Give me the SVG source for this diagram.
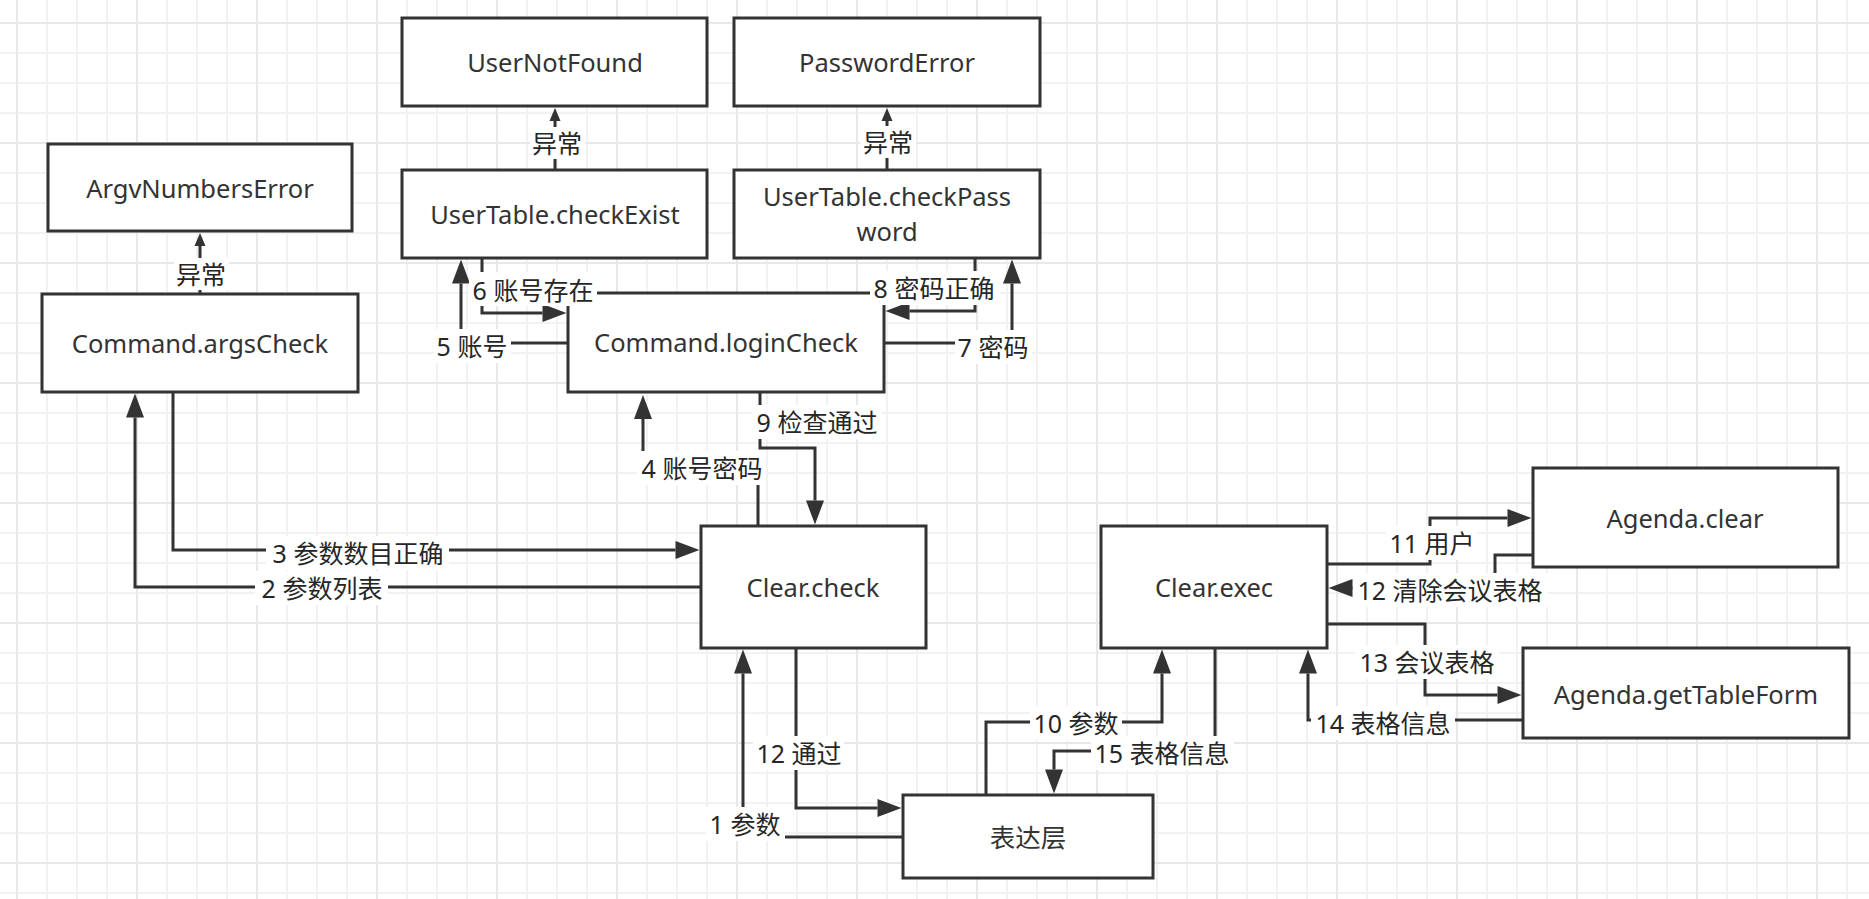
<svg xmlns="http://www.w3.org/2000/svg" width="1869" height="899" viewBox="0 0 1869 899">
  <defs>
    <pattern id="grid" x="16" y="22" width="120" height="120" patternUnits="userSpaceOnUse">
      <rect x="30" y="0" width="2" height="120" fill="#f2f2f2"/>
      <rect x="60" y="0" width="2" height="120" fill="#f2f2f2"/>
      <rect x="90" y="0" width="2" height="120" fill="#f2f2f2"/>
      <rect x="0" y="30" width="120" height="2" fill="#f2f2f2"/>
      <rect x="0" y="60" width="120" height="2" fill="#f2f2f2"/>
      <rect x="0" y="90" width="120" height="2" fill="#f2f2f2"/>
      <rect x="0" y="0" width="2" height="120" fill="#e8e8e8"/>
      <rect x="0" y="0" width="120" height="2" fill="#e8e8e8"/>
    </pattern>
    <!-- block arrowhead drawn from the end of the line forward to the tip -->
    <marker id="arrow" markerUnits="userSpaceOnUse" viewBox="0 -9 24 18" refX="0" refY="0" markerWidth="24" markerHeight="18" orient="auto" overflow="visible">
      <path d="M0,-9 L24,0 L0,9 Z" fill="#333333"/>
    </marker>
    <marker id="arrow-sm" markerUnits="userSpaceOnUse" viewBox="0 -5.5 13 11" refX="0" refY="0" markerWidth="13" markerHeight="11" orient="auto" overflow="visible">
      <path d="M0,-5.5 L13,0 L0,5.5 Z" fill="#333333"/>
    </marker>
    <style>
      .node rect { fill: #ffffff; stroke: #333333; stroke-width: 3; }
      .node text { font-family: "Noto Sans", "Noto Sans CJK SC", sans-serif; font-size: 25.5px; fill: #333333; text-anchor: middle; dominant-baseline: central; }
      .edge { fill: none; stroke: #333333; stroke-width: 3; stroke-linejoin: miter; marker-end: url(#arrow); }
      .edge.small { marker-end: url(#arrow-sm); }
      .lbl rect { fill: #ffffff; }
      .lbl text { font-family: "Noto Sans", "Noto Sans CJK SC", sans-serif; font-size: 25px; fill: #262626; text-anchor: middle; dominant-baseline: central; }
    </style>
  </defs>

  <rect x="0" y="0" width="1869" height="899" fill="#ffffff"/>
  <rect x="0" y="0" width="1869" height="899" fill="url(#grid)"/>

  <!-- nodes -->
  <g id="argv-numbers-error" class="node">
    <rect x="48" y="144" width="304" height="87"/>
    <text x="200" y="188">ArgvNumbersError</text>
  </g>
  <g id="command-args-check" class="node">
    <rect x="42" y="294" width="316" height="98"/>
    <text x="200" y="343">Command.argsCheck</text>
  </g>
  <g id="user-not-found" class="node">
    <rect x="402" y="18" width="305" height="88"/>
    <text x="555" y="62">UserNotFound</text>
  </g>
  <g id="password-error" class="node">
    <rect x="734" y="18" width="306" height="88"/>
    <text x="887" y="62">PasswordError</text>
  </g>
  <g id="check-exist" class="node">
    <rect x="402" y="170" width="305" height="88"/>
    <text x="555" y="214">UserTable.checkExist</text>
  </g>
  <g id="check-password" class="node">
    <rect x="734" y="170" width="306" height="88"/>
    <text x="887" y="196">UserTable.checkPass</text>
    <text x="887" y="231">word</text>
  </g>
  <g id="login-check" class="node">
    <rect x="568" y="293" width="316" height="99"/>
    <text x="726" y="342">Command.loginCheck</text>
  </g>
  <g id="clear-check" class="node">
    <rect x="701" y="526" width="225" height="122"/>
    <text x="813" y="587">Clear.check</text>
  </g>
  <g id="presentation-layer" class="node">
    <rect x="903" y="795" width="250" height="83"/>
    <text x="1028" y="837">表达层</text>
  </g>
  <g id="clear-exec" class="node">
    <rect x="1101" y="526" width="226" height="122"/>
    <text x="1214" y="587">Clear.exec</text>
  </g>
  <g id="agenda-clear" class="node">
    <rect x="1533" y="468" width="305" height="99"/>
    <text x="1685" y="518">Agenda.clear</text>
  </g>
  <g id="agenda-get-table-form" class="node">
    <rect x="1523" y="648" width="326" height="90"/>
    <text x="1686" y="694">Agenda.getTableForm</text>
  </g>

  <!-- connectors -->
  <g id="connectors">
    <path class="edge small" d="M200,294 V246"/>
    <path class="edge small" d="M555,170 V121"/>
    <path class="edge small" d="M887,170 V121"/>
    <path class="edge" d="M568,343 H461 V283.5"/>
    <path class="edge" d="M482,258 V313 H542.5"/>
    <path class="edge" d="M884,343 H1012 V283.5"/>
    <path class="edge" d="M975,258 V311 H909.5"/>
    <path class="edge" d="M760,392 V448 H815 V500.5"/>
    <path class="edge" d="M758,526 V470 H643 V419"/>
    <path class="edge" d="M173,392 V550 H675.5"/>
    <path class="edge" d="M701,587 H135 V417.5"/>
    <path class="edge" d="M903,837 H743 V673.5"/>
    <path class="edge" d="M796,648 V808 H877.5"/>
    <path class="edge" d="M986,795 V722 H1162 V673.5"/>
    <path class="edge" d="M1215,648 V751 H1054 V769.5"/>
    <path class="edge" d="M1327,564 H1430 V518 H1507.5"/>
    <path class="edge" d="M1533,555 H1495 V588 H1352.5"/>
    <path class="edge" d="M1327,624 H1425 V695 H1497.5"/>
    <path class="edge" d="M1523,720 H1308 V673.5"/>

    <!-- connector labels -->
    <g class="lbl">
      <rect x="174" y="258" width="55" height="32"/><text x="201" y="274">异常</text>
      <rect x="530" y="127" width="55" height="32"/><text x="557" y="143">异常</text>
      <rect x="860" y="126" width="56" height="32"/><text x="888" y="142">异常</text>
      <rect x="434" y="329" width="77" height="34"/><text x="472" y="346">5 账号</text>
      <rect x="469" y="272" width="128" height="34"/><text x="533" y="290">6 账号存在</text>
      <rect x="955" y="330" width="77" height="34"/><text x="993" y="347">7 密码</text>
      <rect x="870" y="271" width="129" height="34"/><text x="934" y="288">8 密码正确</text>
      <rect x="752" y="405" width="129" height="34"/><text x="817" y="422">9 检查通过</text>
      <rect x="637" y="451" width="129" height="34"/><text x="702" y="468">4 账号密码</text>
      <rect x="266" y="536" width="183" height="34"/><text x="358" y="553">3 参数数目正确</text>
      <rect x="255" y="571" width="133" height="34"/><text x="322" y="588">2 参数列表</text>
      <rect x="706" y="807" width="79" height="34"/><text x="745" y="824">1 参数</text>
      <rect x="753" y="736" width="91" height="34"/><text x="799" y="753">12 通过</text>
      <rect x="1030" y="706" width="92" height="34"/><text x="1076" y="723">10 参数</text>
      <rect x="1091" y="736" width="143" height="34"/><text x="1162" y="753">15 表格信息</text>
      <rect x="1386" y="526" width="91" height="34"/><text x="1432" y="543">11 用户</text>
      <rect x="1353" y="573" width="195" height="34"/><text x="1450" y="590">12 清除会议表格</text>
      <rect x="1355" y="645" width="144" height="34"/><text x="1427" y="662">13 会议表格</text>
      <rect x="1311" y="706" width="144" height="34"/><text x="1383" y="723">14 表格信息</text>
    </g>
  </g>
</svg>
